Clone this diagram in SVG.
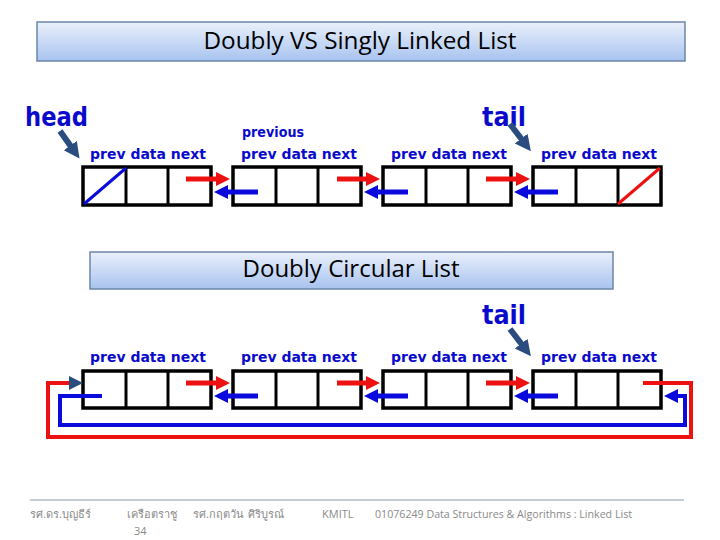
<svg xmlns="http://www.w3.org/2000/svg" width="720" height="540" viewBox="0 0 720 540">
<defs>
<linearGradient id="tg" x1="0" y1="0" x2="0" y2="1">
<stop offset="0" stop-color="#eaf0fb"/>
<stop offset="1" stop-color="#a8c3ef"/>
</linearGradient>
<marker id="ar" markerUnits="userSpaceOnUse" markerWidth="16" markerHeight="16" refX="3" refY="7" orient="auto"><path d="M0,0 L14,7 L0,14 z" fill="#ee1111"/></marker>
<marker id="ab" markerUnits="userSpaceOnUse" markerWidth="16" markerHeight="16" refX="3" refY="7" orient="auto"><path d="M0,0 L14,7 L0,14 z" fill="#0a0adc"/></marker>
<marker id="ad" markerUnits="userSpaceOnUse" markerWidth="16" markerHeight="16" refX="3" refY="7" orient="auto"><path d="M0,0 L14,7 L0,14 z" fill="#2b4c7e"/></marker>
<marker id="ap" markerUnits="userSpaceOnUse" markerWidth="18" markerHeight="18" refX="3" refY="8" orient="auto"><path d="M0,0 L16,8 L0,16 z" fill="#2b4c7e"/></marker>
</defs>
<style>
.box{fill:#fff;stroke:#000;stroke-width:3.5}
.div{stroke:#000;stroke-width:3}
.lbl{font-family:"DejaVu Sans",sans-serif;font-weight:bold;font-size:14px;fill:#0a0acc}
.big{font-family:"DejaVu Sans",sans-serif;font-weight:bold;font-size:27px;fill:#0a0acc}
.ttl{font-family:"Open Sans","Liberation Sans",sans-serif;font-size:23px;fill:#000}
.tbox{fill:url(#tg);stroke:#6d86aa;stroke-width:1.5}
.red{fill:none;stroke:#ee1111;stroke-width:5}
.blue{fill:none;stroke:#0a0adc;stroke-width:5}
.redl{fill:none;stroke:#ee1111;stroke-width:4}
.bluel{fill:none;stroke:#0a0adc;stroke-width:4}
.ptr{fill:none;stroke:#2b4c7e;stroke-width:6}
.ft{font-family:"Open Sans","Noto Sans","Liberation Sans",sans-serif;font-size:11px;fill:#8a8a8a}
</style>

<g id="title1">
<rect class="tbox" x="37" y="22" width="648" height="39"/>
<text class="ttl" x="360" y="49" text-anchor="middle" textLength="313" lengthAdjust="spacingAndGlyphs">Doubly VS Singly Linked List</text>
</g>
<g id="title2">
<rect class="tbox" x="90" y="252" width="523" height="37"/>
<text class="ttl" x="351" y="277" text-anchor="middle" textLength="217" lengthAdjust="spacingAndGlyphs">Doubly Circular List</text>
</g>

<g id="head-label"><text class="big" x="25" y="126" textLength="63" lengthAdjust="spacingAndGlyphs">head</text></g>
<g id="tail-label-top"><text class="big" x="482" y="126" textLength="44" lengthAdjust="spacingAndGlyphs">tail</text></g>
<g id="tail-label-bottom"><text class="big" x="482" y="324" textLength="44" lengthAdjust="spacingAndGlyphs">tail</text></g>
<g id="previous-label"><text class="lbl" x="242" y="137" textLength="62" lengthAdjust="spacingAndGlyphs">previous</text></g>

<!-- top row -->
<g id="t1">
<text class="lbl" x="90" y="159" textLength="116" lengthAdjust="spacingAndGlyphs">prev data next</text>
<rect class="box" x="83" y="167" width="128" height="38"/>
<line class="div" x1="126" y1="167" x2="126" y2="205"/><line class="div" x1="168" y1="167" x2="168" y2="205"/>
<line x1="84" y1="204" x2="126" y2="168" stroke="#0a0adc" stroke-width="3"/>
</g>
<g id="t2">
<text class="lbl" x="241" y="159" textLength="116" lengthAdjust="spacingAndGlyphs">prev data next</text>
<rect class="box" x="233" y="167" width="128" height="38"/>
<line class="div" x1="276" y1="167" x2="276" y2="205"/><line class="div" x1="318" y1="167" x2="318" y2="205"/>
</g>
<g id="t3">
<text class="lbl" x="391" y="159" textLength="116" lengthAdjust="spacingAndGlyphs">prev data next</text>
<rect class="box" x="383" y="167" width="128" height="38"/>
<line class="div" x1="426" y1="167" x2="426" y2="205"/><line class="div" x1="468" y1="167" x2="468" y2="205"/>
</g>
<g id="t4">
<text class="lbl" x="541" y="159" textLength="116" lengthAdjust="spacingAndGlyphs">prev data next</text>
<rect class="box" x="533" y="167" width="128" height="38"/>
<line class="div" x1="576" y1="167" x2="576" y2="205"/><line class="div" x1="618" y1="167" x2="618" y2="205"/>
<line x1="618" y1="204" x2="660" y2="168" stroke="#ee1111" stroke-width="3"/>
</g>

<!-- bottom row -->
<g id="b1">
<text class="lbl" x="90" y="362" textLength="116" lengthAdjust="spacingAndGlyphs">prev data next</text>
<rect class="box" x="83" y="371" width="128" height="37"/>
<line class="div" x1="126" y1="371" x2="126" y2="408"/><line class="div" x1="168" y1="371" x2="168" y2="408"/>
</g>
<g id="b2">
<text class="lbl" x="241" y="362" textLength="116" lengthAdjust="spacingAndGlyphs">prev data next</text>
<rect class="box" x="233" y="371" width="128" height="37"/>
<line class="div" x1="276" y1="371" x2="276" y2="408"/><line class="div" x1="318" y1="371" x2="318" y2="408"/>
</g>
<g id="b3">
<text class="lbl" x="391" y="362" textLength="116" lengthAdjust="spacingAndGlyphs">prev data next</text>
<rect class="box" x="383" y="371" width="128" height="37"/>
<line class="div" x1="426" y1="371" x2="426" y2="408"/><line class="div" x1="468" y1="371" x2="468" y2="408"/>
</g>
<g id="b4">
<text class="lbl" x="541" y="362" textLength="116" lengthAdjust="spacingAndGlyphs">prev data next</text>
<rect class="box" x="533" y="371" width="128" height="37"/>
<line class="div" x1="576" y1="371" x2="576" y2="408"/><line class="div" x1="618" y1="371" x2="618" y2="408"/>
</g>

<g id="connectors">
<!-- pointers -->
<line class="ptr" x1="60" y1="131" x2="72" y2="148" marker-end="url(#ap)"/>
<line class="ptr" x1="510" y1="124" x2="523" y2="141" marker-end="url(#ap)"/>
<line class="ptr" x1="510" y1="329" x2="523" y2="346" marker-end="url(#ap)"/>
<!-- top row links -->
<line class="red" x1="186" y1="179" x2="219" y2="179" marker-end="url(#ar)"/>
<line class="blue" x1="258" y1="192" x2="225" y2="192" marker-end="url(#ab)"/>
<line class="red" x1="337" y1="179" x2="369" y2="179" marker-end="url(#ar)"/>
<line class="blue" x1="408" y1="192" x2="375" y2="192" marker-end="url(#ab)"/>
<line class="red" x1="486" y1="179" x2="519" y2="179" marker-end="url(#ar)"/>
<line class="blue" x1="558" y1="192" x2="525" y2="192" marker-end="url(#ab)"/>
<!-- bottom row links -->
<line class="red" x1="186" y1="383" x2="219" y2="383" marker-end="url(#ar)"/>
<line class="blue" x1="258" y1="396" x2="225" y2="396" marker-end="url(#ab)"/>
<line class="red" x1="337" y1="383" x2="369" y2="383" marker-end="url(#ar)"/>
<line class="blue" x1="408" y1="396" x2="375" y2="396" marker-end="url(#ab)"/>
<line class="red" x1="486" y1="383" x2="519" y2="383" marker-end="url(#ar)"/>
<line class="blue" x1="558" y1="396" x2="525" y2="396" marker-end="url(#ab)"/>
<!-- circular links -->
<path class="redl" d="M643,383 H691 V437 H48 V383 H72" marker-end="url(#ad)"/>
<path class="bluel" d="M102,396 H60 V425 H685 V396 H675" marker-end="url(#ab)"/>
</g>

<g id="footer">
<line x1="30" y1="500" x2="684" y2="500" stroke="#8a9aab" stroke-width="1"/>
<text class="ft" x="30" y="518">รศ.ดร.บุญธีร์</text>
<text class="ft" x="127" y="518">เครือตราชู</text>
<text class="ft" x="193" y="518">รศ.กฤตวัน</text>
<text class="ft" x="248" y="518">ศิริบูรณ์</text>
<text class="ft" x="322" y="518">KMITL</text>
<text class="ft" x="375" y="518" textLength="257" lengthAdjust="spacingAndGlyphs">01076249 Data Structures &amp; Algorithms  : Linked List</text>
<text class="ft" x="134" y="535" font-size="13">34</text>
</g>
</svg>
